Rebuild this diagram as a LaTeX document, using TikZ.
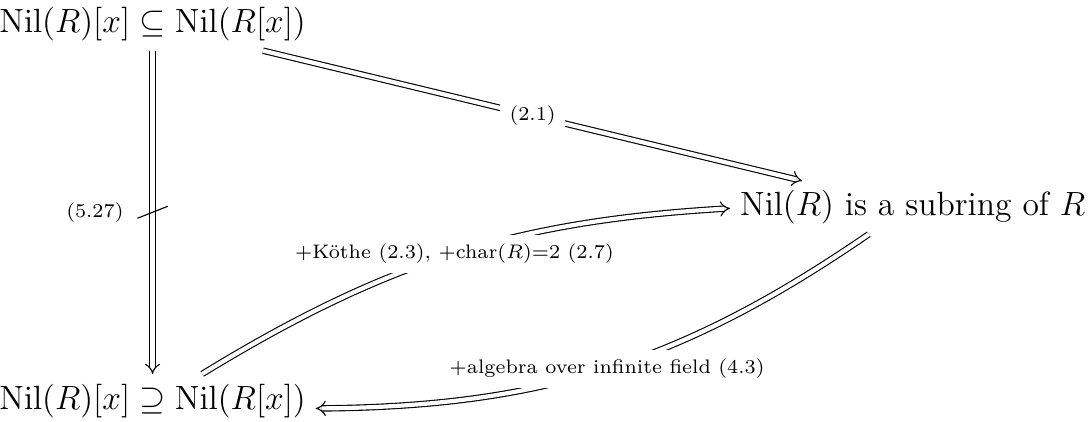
\documentclass[tikz,border=0pt]{standalone}
\usepackage{amsmath, amssymb}
\usetikzlibrary{arrows.meta, calc}

\begin{document}
\begin{tikzpicture}[
    obj/.style={font=\large},
    lab/.style={font=\scriptsize},
    desc/.style={lab, fill=white},
    impl/.style={double, double distance=1.5pt, -{Implies}},
]
\useasboundingbox (0,0) rectangle (13.67,5.286);
\node[obj] (sub) at (1.915,4.985) {$\mathrm{Nil}(R)[x] \subseteq \mathrm{Nil}(R[x])$};
\node[obj] (sup) at (1.915,0.257) {$\mathrm{Nil}(R)[x] \supseteq \mathrm{Nil}(R[x])$};
\node[obj] (ring) at (11.457,2.681) {$\mathrm{Nil}(R)$ is a subring of $R$};

% not implied
\draw[impl] (sub) -- coordinate[midway] (neg) node[lab, midway, left=0.24cm] {(5.27)} (sup);
\draw ($(neg)+(-0.19,-0.075)$) -- ($(neg)+(0.19,0.075)$);

\draw[impl] (sub) -- node[desc, midway] {(2.1)} (ring);
\draw[impl] (sup) to[bend left=14] node[desc, midway] {+Köthe (2.3), +char$(R)$=2 (2.7)} (ring);
\draw[impl] (ring) to[bend left=17] node[desc, midway] {+algebra over infinite field (4.3)} (sup);
\end{tikzpicture}
\end{document}
